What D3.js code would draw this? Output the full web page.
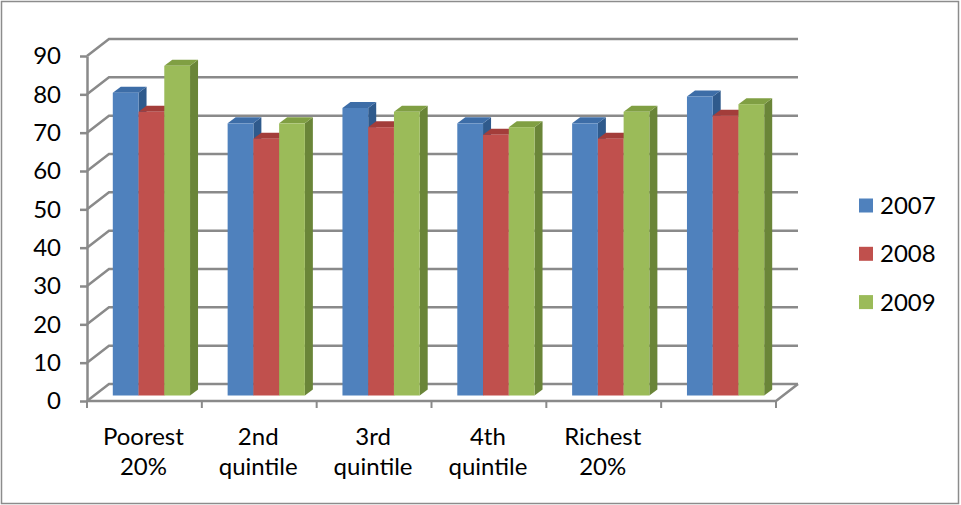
<!DOCTYPE html>
<html>
<head>
<meta charset="utf-8">
<script src="https://cdn.jsdelivr.net/npm/d3@7"></script>
<style>
  body { margin: 0; background: #fff; }
  text { font-family: Lato, "Open Sans", sans-serif; }
</style>
</head>
<body>
<svg id="chart" width="961" height="505"></svg>
<script>
// data
const categories = ['Poorest 20%', '2nd quintile', '3rd quintile', '4th quintile', 'Richest 20%', '']
const series = ['2007', '2008', '2009']
const values2007 = [79, 71, 75, 71, 71, 78]
const values2008 = [74, 67, 70, 68, 67, 73]
const values2009 = [86, 71, 74, 70, 74, 76]
const yTicks = [0, 10, 20, 30, 40, 50, 60, 70, 80, 90]

const values = [values2007, values2008, values2009]

// face colours: front, top, side
const colors = {
    '2007': ['#4F81BD', '#3D6DA7', '#2F5A8C'],
    '2008': ['#C0504D', '#A33D3A', '#8E302E'],
    '2009': ['#9BBB59', '#809F43', '#6A8538']
}
const gridColor = '#8a8a8a'
const fontSize = 24

const svg = d3.select('#chart')

// chart border
svg.append('rect')
    .attr('x', 1.5).attr('y', 1.5)
    .attr('width', 957).attr('height', 502)
    .attr('fill', '#fff')
    .attr('stroke', '#8c8c8c')
    .attr('stroke-width', 1.5)

const plot = { left: 87, right: 776, top: 56, bottom: 401 }
const depth = { dx: 22, dy: -17 }      // wall depth
const barDepth = { dx: 8, dy: -6 }     // column depth
// columns sit in the middle of the floor depth
const shift = { dx: (depth.dx - barDepth.dx) / 2, dy: (depth.dy - barDepth.dy) / 2 }

const y = d3.scaleLinear().domain([0, 90]).range([plot.bottom, plot.top])
const x0 = d3.scaleBand().domain(categories).range([plot.left, plot.right]).paddingInner(0).paddingOuter(0)
const x1 = d3.scaleBand().domain(series).range([0, x0.bandwidth()]).paddingInner(0).paddingOuter(0.73)

// side wall diagonals + back gridlines
svg.append('g')
    .selectAll('path')
    .data(yTicks)
    .join('path')
    .attr('d', t => `M${plot.left},${y(t)}l${depth.dx},${depth.dy}H${plot.right + depth.dx}`)
    .attr('fill', 'none')
    .attr('stroke', gridColor)
    .attr('stroke-width', 2.5)

// front edge of the floor
svg.append('path')
    .attr('d', `M${plot.left},${y(0)}H${plot.right}l${depth.dx},${depth.dy}`)
    .attr('fill', 'none')
    .attr('stroke', gridColor)
    .attr('stroke-width', 2.5)

// category boundary ticks
const bounds = [...categories.map(c => x0(c)), x0.range()[1]]
svg.append('g')
    .selectAll('line')
    .data(bounds)
    .join('line')
    .attr('x1', d => d).attr('x2', d => d)
    .attr('y1', y(0)).attr('y2', y(0) + 7)
    .attr('stroke', gridColor)
    .attr('stroke-width', 2)

// y axis
const yAxis = svg.append('g')
    .attr('transform', `translate(${plot.left},0)`)
    .call(d3.axisLeft(y).tickValues(yTicks).tickSize(7).tickSizeOuter(0).tickPadding(19))
yAxis.attr('font-size', fontSize).attr('font-family', 'Lato, "Open Sans", sans-serif')
yAxis.selectAll('path, line').attr('stroke', gridColor).attr('stroke-width', 2.5)
yAxis.selectAll('text').attr('fill', '#000')

// columns, drawn left to right so each front face covers the previous side face
const rows = categories.flatMap((c, i) => series.map((s, j) => ({ c, s, v: values[j][i] })))

const bar = svg.append('g')
    .selectAll('g')
    .data(rows)
    .join('g')

const bx = d => x0(d.c) + x1(d.s) + shift.dx
const bTop = d => y(d.v) + shift.dy
const bBot = y(0) + shift.dy
const bw = x1.bandwidth()

bar.append('path')
    .attr('d', d => `M${bx(d) + bw},${bTop(d)}l${barDepth.dx},${barDepth.dy}V${bBot + barDepth.dy}l${-barDepth.dx},${-barDepth.dy}Z`)
    .attr('fill', d => colors[d.s][2])

bar.append('path')
    .attr('d', d => `M${bx(d)},${bTop(d)}l${barDepth.dx},${barDepth.dy}h${bw}l${-barDepth.dx},${-barDepth.dy}Z`)
    .attr('fill', d => colors[d.s][1])

bar.append('rect')
    .attr('x', bx)
    .attr('y', bTop)
    .attr('width', bw)
    .attr('height', d => bBot - bTop(d))
    .attr('fill', d => colors[d.s][0])

// category labels, two lines each
const labels = svg.append('g')
    .selectAll('text')
    .data(categories)
    .join('text')
    .attr('text-anchor', 'middle')
    .attr('font-size', fontSize)
    .attr('fill', '#000')

labels.selectAll('tspan')
    .data(c => {
        const k = c.indexOf(' ')
        return k < 0 ? [] : [c.slice(0, k), c.slice(k + 1)].map(t => ({ c, t }))
    })
    .join('tspan')
    .attr('x', d => x0(d.c) + x0.bandwidth() / 2 - 1)
    .attr('y', (d, i) => 445 + i * 30)
    .text(d => d.t)

// legend
const legend = svg.append('g')
    .selectAll('g')
    .data(series)
    .join('g')
    .attr('transform', (d, i) => `translate(859,${205.5 + i * 48.3})`)

legend.append('rect')
    .attr('x', 0).attr('y', -7)
    .attr('width', 14).attr('height', 14)
    .attr('fill', d => colors[d][0])

legend.append('text')
    .attr('x', 21)
    .attr('dy', '0.35em')
    .attr('font-size', fontSize)
    .attr('fill', '#000')
    .text(d => d)
</script>
</body>
</html>
